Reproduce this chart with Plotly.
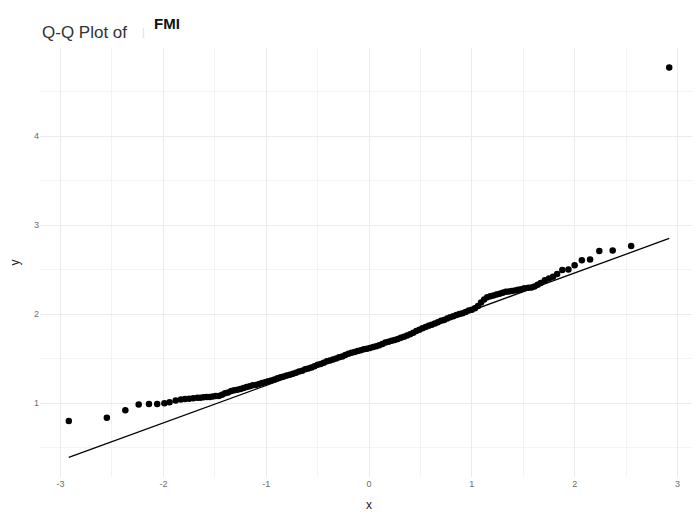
import plotly.graph_objects as go

# Theoretical quantiles (x) and sample quantiles (y)
theoretical = [
    -2.92, -2.55, -2.37, -2.24, -2.14, -2.06, -1.99, -1.94, -1.88, -1.83,
    -1.79, -1.75, -1.71, -1.67, -1.64, -1.61, -1.58, -1.55, -1.52, -1.49,
    -1.46, -1.43, -1.40, -1.37, -1.34, -1.31, -1.28, -1.25, -1.22, -1.19,
    -1.16, -1.13, -1.10, -1.07, -1.04, -1.01, -0.98, -0.95, -0.92, -0.89,
    -0.86, -0.83, -0.80, -0.77, -0.74, -0.71, -0.68, -0.65, -0.62, -0.59,
    -0.56, -0.53, -0.50, -0.47, -0.44, -0.41, -0.38, -0.35, -0.32, -0.29,
    -0.26, -0.23, -0.20, -0.17, -0.14, -0.11, -0.08, -0.05, -0.02, 0.01,
    0.04, 0.07, 0.10, 0.13, 0.16, 0.19, 0.22, 0.25, 0.28, 0.31,
    0.34, 0.37, 0.40, 0.43, 0.46, 0.49, 0.52, 0.55, 0.58, 0.61,
    0.64, 0.67, 0.70, 0.73, 0.76, 0.79, 0.82, 0.85, 0.88, 0.91,
    0.94, 0.97, 1.00, 1.03, 1.06, 1.09, 1.12, 1.15, 1.18, 1.21,
    1.24, 1.27, 1.30, 1.33, 1.36, 1.39, 1.42, 1.45, 1.48, 1.51,
    1.55, 1.58, 1.61, 1.64, 1.67, 1.71, 1.75, 1.79, 1.83, 1.88,
    1.94, 2.00, 2.07, 2.15, 2.24, 2.37, 2.55, 2.92,
]
sample = [
    0.80, 0.835, 0.92, 0.985, 0.99, 0.99, 1.00, 1.01, 1.03, 1.04,
    1.045, 1.05, 1.055, 1.06, 1.06, 1.065, 1.07, 1.07, 1.075, 1.08,
    1.08, 1.095, 1.11, 1.12, 1.135, 1.145, 1.15, 1.16, 1.17, 1.18,
    1.19, 1.20, 1.205, 1.215, 1.225, 1.235, 1.245, 1.255, 1.265, 1.28,
    1.29, 1.30, 1.31, 1.32, 1.33, 1.34, 1.355, 1.365, 1.38, 1.39,
    1.40, 1.415, 1.43, 1.44, 1.455, 1.47, 1.48, 1.49, 1.50, 1.515,
    1.525, 1.54, 1.555, 1.565, 1.575, 1.585, 1.595, 1.605, 1.61, 1.62,
    1.63, 1.64, 1.65, 1.665, 1.68, 1.69, 1.70, 1.71, 1.72, 1.735,
    1.745, 1.76, 1.775, 1.79, 1.81, 1.825, 1.84, 1.855, 1.87, 1.88,
    1.895, 1.91, 1.925, 1.935, 1.95, 1.965, 1.975, 1.99, 2.00, 2.01,
    2.025, 2.04, 2.05, 2.065, 2.09, 2.13, 2.165, 2.19, 2.20, 2.21,
    2.22, 2.23, 2.24, 2.25, 2.255, 2.26, 2.265, 2.275, 2.28, 2.29,
    2.295, 2.30, 2.31, 2.33, 2.35, 2.38, 2.40, 2.42, 2.45, 2.495,
    2.50, 2.55, 2.605, 2.615, 2.71, 2.715, 2.765, 4.77,
]

# Reference line endpoints
line_x = [-2.92, 2.92]
line_y = [0.39, 2.85]

x_ticks = [-3, -2, -1, 0, 1, 2, 3]
y_ticks = [1, 2, 3, 4]

fig = go.Figure()
fig.add_trace(go.Scatter(
    x=theoretical, y=sample, mode="markers",
    marker=dict(color="black", size=6.5, line=dict(width=0)),
    showlegend=False, hoverinfo="x+y",
))
fig.add_trace(go.Scatter(
    x=line_x, y=line_y, mode="lines",
    line=dict(color="black", width=1.3),
    showlegend=False,
))

grid_major = "#ebebeb"
grid_minor = "#f3f3f3"

# The page adds an 8px body margin, so the figure is 8px smaller than the window
fig.update_layout(
    width=692, height=507,
    margin=dict(l=32, r=2, t=40, b=38),
    paper_bgcolor="white", plot_bgcolor="white",
    font=dict(family="Liberation Sans, Arial, sans-serif", color="#4d4d4d"),
    xaxis=dict(
        range=[-3.2, 3.2], tickvals=x_ticks, ticktext=[str(v) for v in x_ticks],
        showgrid=True, gridcolor=grid_major, gridwidth=1,
        zeroline=False, showline=False, ticks="", automargin=False,
        tickfont=dict(size=9, color="#6b6b6b"),
        minor=dict(dtick=0.5, tick0=0.5, showgrid=True, gridcolor=grid_minor, gridwidth=0.6),
        title=dict(text="x", font=dict(size=12, color="#222222"), standoff=12),
    ),
    yaxis=dict(
        range=[0.17, 4.99], tickvals=y_ticks, ticktext=[str(v) for v in y_ticks],
        showgrid=True, gridcolor=grid_major, gridwidth=1,
        zeroline=False, showline=False, ticks="", automargin=False,
        tickfont=dict(size=9, color="#6b6b6b"),
        minor=dict(dtick=0.5, tick0=0.5, showgrid=True, gridcolor=grid_minor, gridwidth=0.6),
        title=dict(text="y", font=dict(size=12, color="#222222"), standoff=13),
    ),
    annotations=[
        dict(text="Q-Q Plot of", xref="paper", yref="paper", x=0.0, y=1.037,
             xanchor="left", yanchor="middle", showarrow=False,
             font=dict(size=17, color="#333333")),
        dict(text="|", xref="paper", yref="paper", x=0.152, y=1.037,
             xanchor="left", yanchor="middle", showarrow=False,
             font=dict(size=11, color="#dddddd")),
        dict(text="<b>FMI</b>", xref="paper", yref="paper", x=0.17, y=1.058,
             xanchor="left", yanchor="middle", showarrow=False,
             font=dict(size=15, color="#111111")),
    ],
)

fig.write_html("out.html")
